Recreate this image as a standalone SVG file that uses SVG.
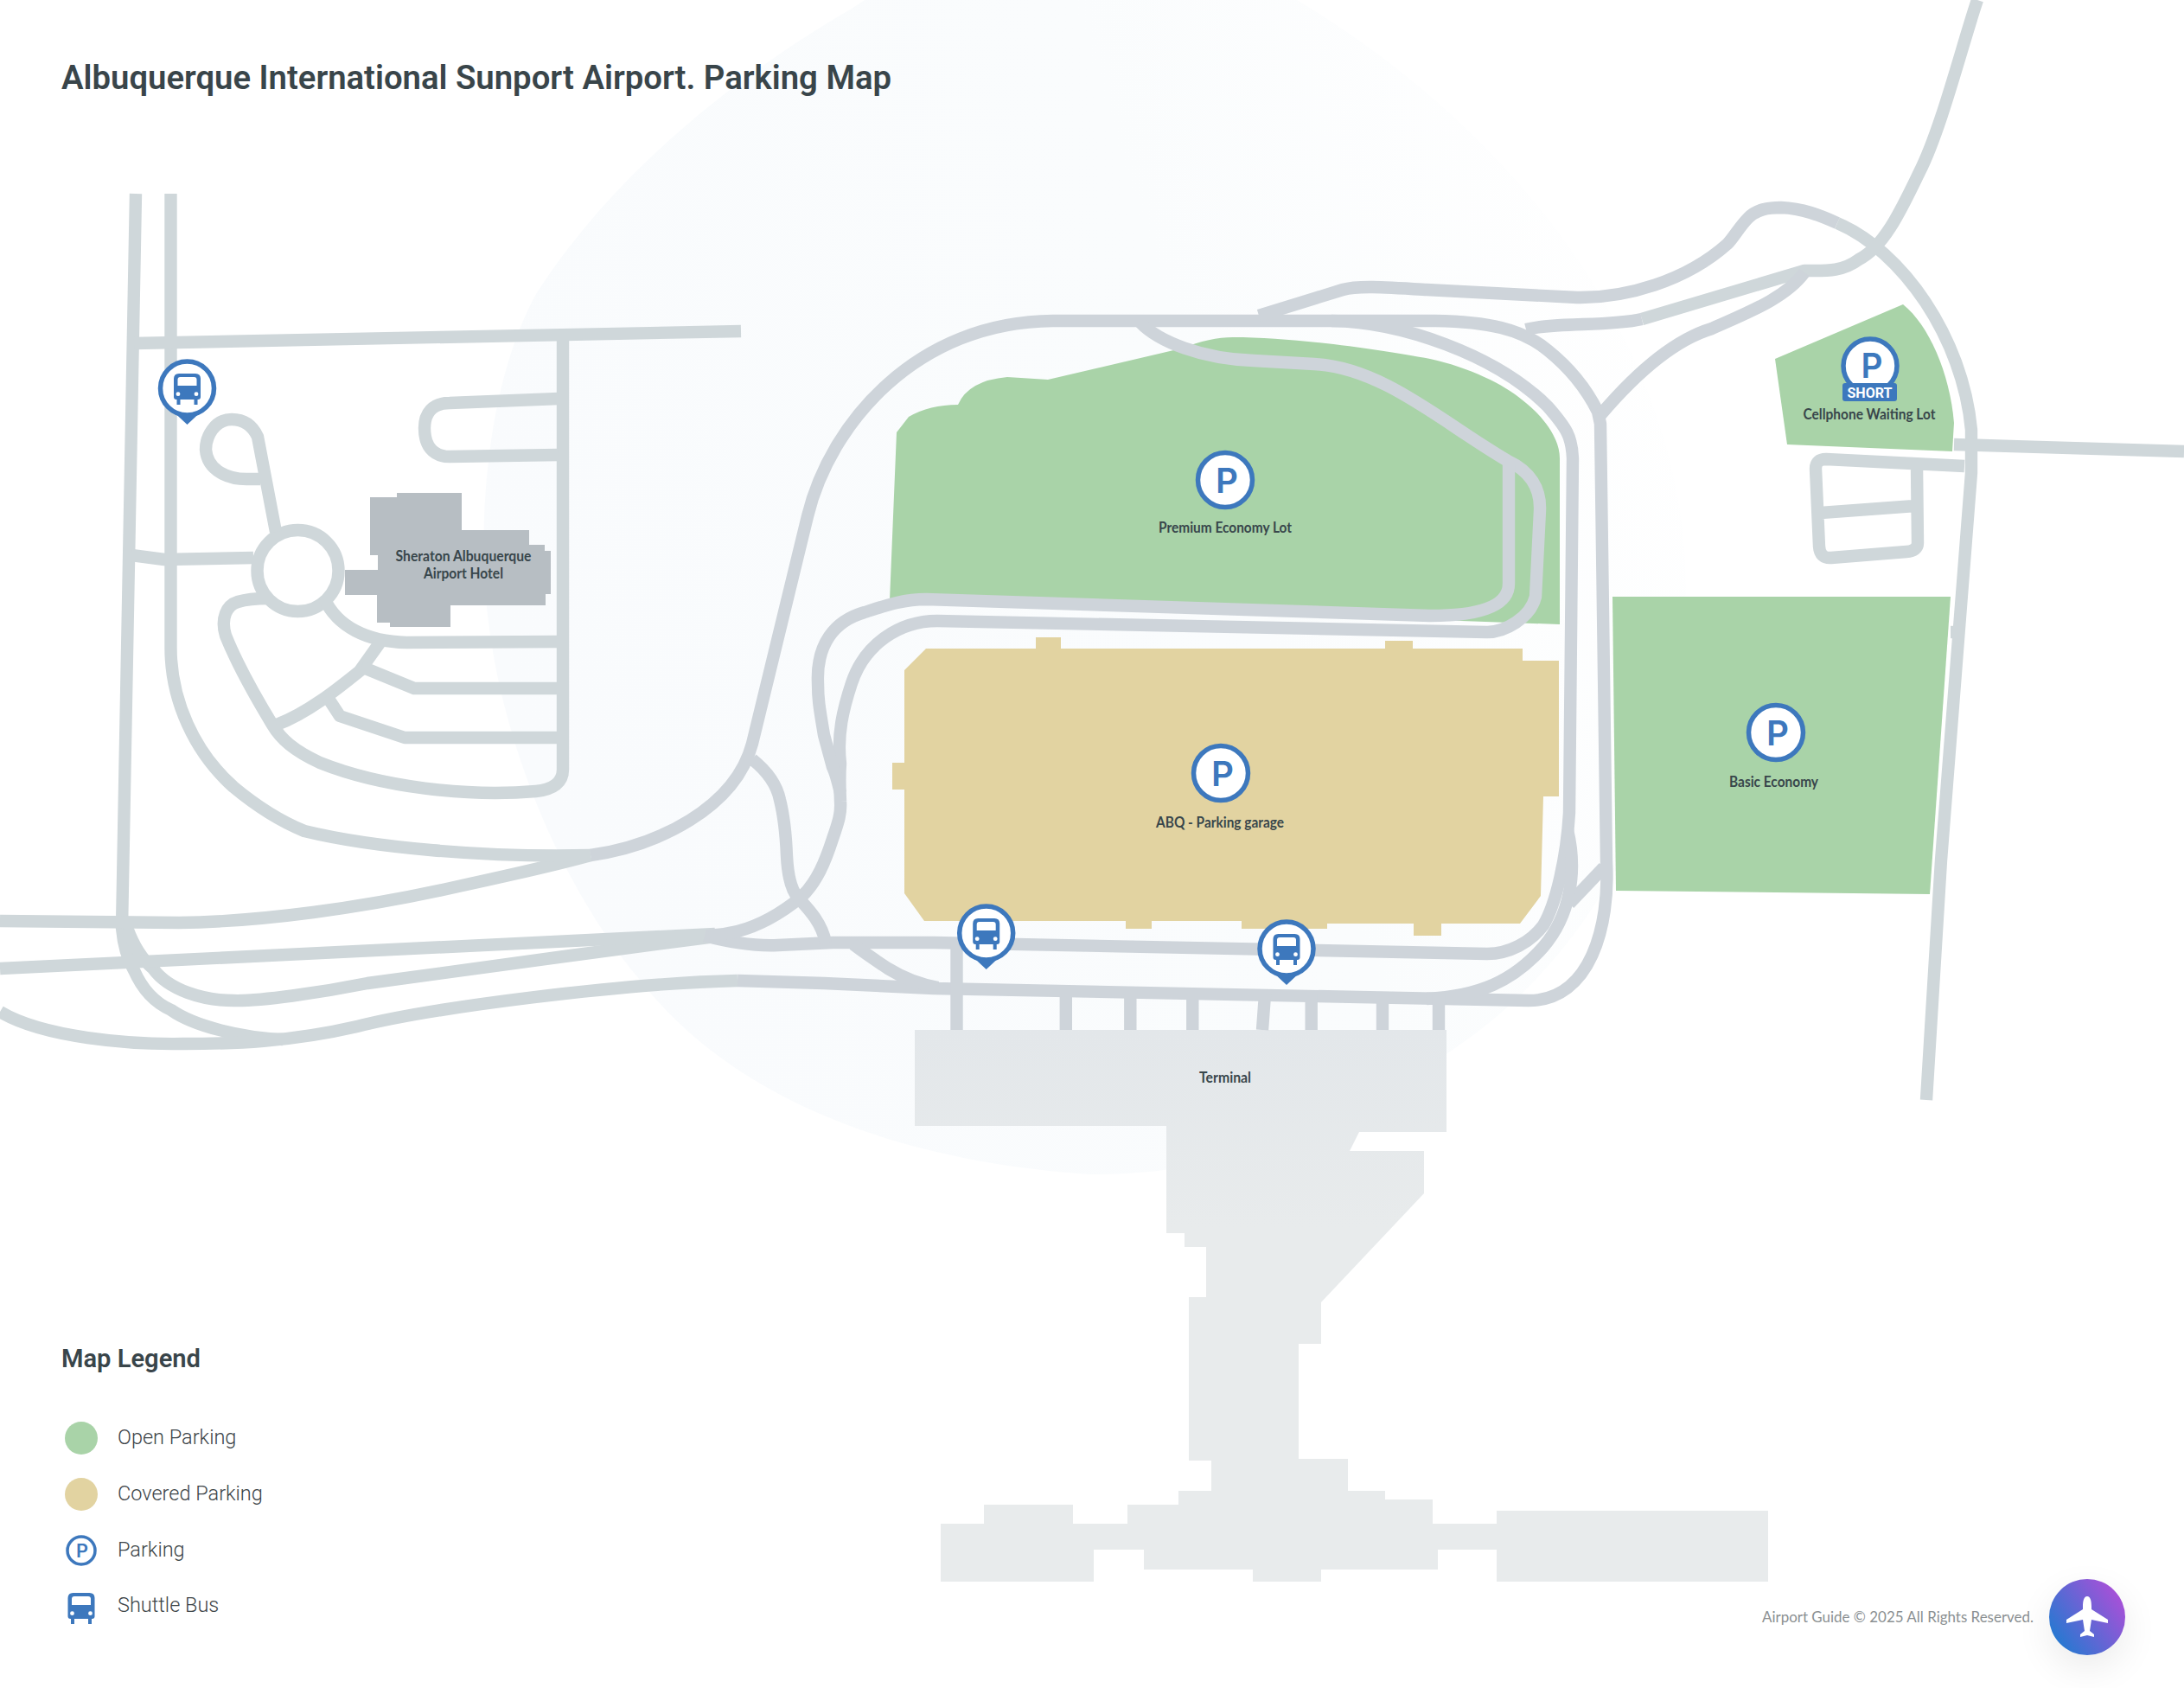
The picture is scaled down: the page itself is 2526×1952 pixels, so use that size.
<svg xmlns="http://www.w3.org/2000/svg" width="2526" height="1952" viewBox="0 0 2526 1952">
<style>
.road{fill:none;stroke:#cfd7da;stroke-width:14.4;stroke-linejoin:round}
.road2{fill:none;stroke:#ced4da;stroke-width:14.4;stroke-linejoin:round}
.open{fill:#a9d3a8}
.cov{fill:#e2d3a1}
.bld{fill:#e8ebec}
.lbl{font-family:Lato,"Noto Sans",sans-serif;font-weight:700;font-size:16.5px;fill:#38464b;text-anchor:middle}
.pin{fill:#fff;stroke:#3d78bd;stroke-width:5.5}
.pch{font-family:Inter,"Noto Sans",sans-serif;font-weight:600;font-size:40px;fill:#3d78bd;text-anchor:middle}
.leg{font-family:Roboto,sans-serif;font-weight:300;font-size:23.5px;fill:#3c4447}
.blue{fill:#3d78bd}
</style>
<defs>
<linearGradient id="blob" x1="0" y1="0.55" x2="1" y2="0.25"><stop offset="0" stop-color="#f9fbfd"/><stop offset="0.6" stop-color="#fafcfd"/><stop offset="1" stop-color="#ffffff"/></linearGradient>
<linearGradient id="badge" x1="0" y1="1" x2="1" y2="0.3"><stop offset="0" stop-color="#1080d0"/><stop offset="1" stop-color="#a850d8"/></linearGradient>
<linearGradient id="termfade" gradientUnits="userSpaceOnUse" x1="0" y1="1191" x2="0" y2="1420"><stop offset="0" stop-color="#e3e7ea"/><stop offset="1" stop-color="#e8ebec"/></linearGradient>
<filter id="sh" x="-100%" y="-100%" width="300%" height="300%"><feGaussianBlur stdDeviation="22"/></filter>
<g id="busicon">
<path class="blue" d="M-15.5,-11 Q-15.5,-17 -9.5,-17 L9.5,-17 Q15.5,-17 15.5,-11 L15.5,10 Q15.5,13 12.5,13 L-12.5,13 Q-15.5,13 -15.5,10 Z"/>
<path fill="#fff" d="M-11,-10 Q-11,-13 -8,-13 L8,-13 Q11,-13 11,-10 L11,-3 L-11,-3 Z"/>
<circle cx="-10.5" cy="6.7" r="2.4" fill="#fff"/><circle cx="10.5" cy="6.7" r="2.4" fill="#fff"/>
<rect class="blue" x="-12" y="13" width="4" height="6"/><rect class="blue" x="8" y="13" width="4" height="6"/>
</g>
<g id="buspin">
<path class="blue" d="M-15,28 L0,42 L15,28 Z"/>
<circle class="pin" r="31"/>
<use href="#busicon"/>
</g>
</defs>
<rect width="2526" height="1952" fill="#ffffff"/>
<path fill="url(#blob)" d="M985,10 C830,100 700,215 620,340 C565,440 550,600 565,720 C585,880 660,1040 740,1133 C830,1250 1000,1340 1260,1358 C1420,1360 1560,1300 1700,1200 C1850,1090 1950,900 1950,680 C1950,400 1750,150 1500,0 L1000,0 Z"/>

<g id="lot-premium"><path class="open" d="M1037,500 L1051,482 Q1075,468 1108,468 Q1120,440 1165,436 L1212,439 L1366,403 Q1400,390 1426,390 C1500,390 1600,405 1654,415 C1700,425 1740,445 1760,462 C1790,485 1804,510 1804,530 L1804,722 L1029,694 Z"/></g>
<g id="lot-garage"><path class="cov" d="M1071,750 L1198,750 L1198,737 L1227,737 L1227,750 L1602,750 L1602,741 L1634,741 L1634,750 L1761,750 L1761,764 L1803,764 L1803,921 L1785,921 L1782,1036 L1758,1068 L1667,1068 L1667,1082 L1635,1082 L1635,1068 L1535,1068 L1535,1074 L1436,1074 L1436,1065 L1332,1065 L1332,1074 L1302,1074 L1302,1065 L1069,1065 L1046,1033 L1046,913 L1032,913 L1032,882 L1046,882 L1046,775 Z"/></g>
<g id="lot-basic"><path class="open" d="M1865,690 L2256,690 L2232,1034 L1869,1030 Z"/></g>
<g id="lot-cell"><path class="open" d="M2053,415 L2201,352 C2230,375 2255,430 2260,489 L2258,522 L2067,514 Z"/></g>
<g id="hotel"><path fill="#b7bec3" d="M428,575 L459,575 L459,570 L534,570 L534,613 L612,613 L612,630 L630,630 L630,637 L637,637 L637,687 L631,687 L631,700 L521,700 L521,725 L451,725 L451,720 L436,720 L436,688 L399,688 L399,659 L437,659 L437,642 L428,642 Z"/></g>
<g id="terminal"><path fill="url(#termfade)" d="M1058,1191 L1673,1191 L1673,1309 L1572,1309 L1561,1331 L1647,1331 L1647,1380 L1528,1506 L1528,1554 L1502,1554 L1502,1687 L1559,1687 L1559,1724 L1602,1724 L1602,1734 L1657,1734 L1657,1762 L1731,1762 L1731,1747 L2045,1747 L2045,1829 L1731,1829 L1731,1792 L1663,1792 L1663,1815 L1528,1815 L1528,1829 L1449,1829 L1449,1815 L1323,1815 L1323,1792 L1265,1792 L1265,1829 L1088,1829 L1088,1762 L1138,1762 L1138,1740 L1241,1740 L1241,1762 L1304,1762 L1304,1740 L1363,1740 L1363,1724 L1401,1724 L1401,1689 L1375,1689 L1375,1500 L1395,1500 L1395,1442 L1370,1442 L1370,1426 L1349,1426 L1349,1302 L1058,1302 Z"/></g>

<g id="connectors">
<path class="road" d="M157,224 L141,1073 C143,1095 148,1110 155,1122 C165,1145 180,1160 198,1168 C225,1187 280,1200 327,1202"/>
<path class="road" d="M147,1073 C155,1095 165,1110 177,1120 C195,1145 235,1157 270,1157 C300,1158 370,1148 425,1137 L660,1105 L827,1083"/>
<path class="road" d="M0,1120 L827,1080"/>
<path class="road" d="M0,1065 L207,1067 C300,1066 420,1050 530,1025 C590,1012 640,1001 683,989"/>
<path class="road" d="M0,1170 C50,1200 150,1208 212,1207 C270,1207 335,1205 413,1187 C500,1165 720,1137 853,1134"/>
<path class="road" d="M197.5,224 L197.5,749 C197.5,810 225,870 270,910 C300,935 325,950 352,961 C430,980 560,992 683,989"/>
<path class="road" d="M155,397 L857,383"/>
<path class="road" d="M651,394 L651,890 C651,905 640,913 620,915 C540,922 440,910 370,882 C340,868 325,855 315,838 C295,805 275,770 261,735 C255,715 262,700 275,696 C285,693 300,692 310,692"/>
<circle class="road" cx="344.5" cy="660" r="47"/>
<path class="road" d="M319,615 L298,505 C292,492 282,485 268,485 C248,485 238,505 238,520 C240,545 265,554 285,554 L301,554"/>
<path class="road" d="M152,642 L190,647 L293,645"/>
<path class="road" d="M646,461 L520,466 C500,466 491,478 491,495 C491,515 500,528 520,528 L646,526"/>
<path class="road" d="M375,692 C390,725 425,742 470,743 L646,742"/>
<path class="road" d="M443,738 L416,776 C390,797 355,825 320,838"/>
<path class="road" d="M418,771 L479,796 L646,796"/>
<path class="road" d="M378,805 L393,828 L468,853 L646,853"/>

<path class="road2" d="M683,989 C760,978 850,935 870,860 L934,597 C960,490 1060,372 1218,371 L1540,371 C1620,372 1730,410 1790,470 C1812,495 1818,505 1819,530 L1815,940 C1812,990 1800,1045 1785,1070 C1770,1090 1745,1103 1720,1103 L1080,1090 L963,1090 L900,1093 C880,1094 853,1092 815,1082"/>
<path class="road2" d="M1540,371 L1660,371 C1720,372 1760,380 1790,405 C1815,425 1835,450 1848,476 L1851,490 L1858,997 C1862,1070 1840,1157 1768,1157 L1080,1143 L953,1137 L853,1134"/>
<path class="road2" d="M820,1082 C835,1081 845,1079 853,1077 C880,1070 905,1055 927,1037 C945,1020 955,995 963,970 C970,950 973,940 972,927 C971,905 971,895 972,883 C968,850 975,820 985,790 C1000,745 1040,718 1084,718 L1720,731 C1740,731 1770,715 1776,690 L1781,590 C1782,565 1770,545 1744,533 C1670,490 1600,425 1520,421 L1450,417 C1390,415 1340,395 1319,373"/>
<path class="road2" d="M972,917 C968,900 966,893 963,887 L953,850 C948,820 946,810 946,790 C944,745 965,718 1000,708 C1025,700 1045,693 1071,693 L1654,712 C1700,712 1745,705 1745,675 L1745,536"/>
<path class="road2" d="M870,878 C885,890 898,905 902,925 C907,945 909,965 910,990 C911,1010 914,1028 923,1038 C932,1048 950,1065 955,1090"/>
<path class="road2" d="M987,1092 C1000,1102 1015,1112 1027,1120 C1040,1128 1060,1138 1085,1142"/>
<path class="road2" d="M1855,1003 L1815,1045"/>
<path class="road2" d="M1813,960 C1825,1010 1815,1060 1785,1095 C1750,1135 1710,1152 1650,1155"/>
<path class="road2" d="M1106.5,1094 L1106.5,1191 M1232.8,1145 L1232.8,1191 M1307.3,1145 L1307.3,1191 M1379.3,1145 L1379.3,1191 M1463,1150 L1460,1191 M1516.7,1150 L1516.7,1191 M1599,1150 L1599,1191 M1664,1150 L1664,1191"/>
<path class="road2" d="M1456,365 L1553,335 C1570,330 1600,332 1650,335 L1824,344 C1880,345 1950,325 1998,282 C2005,275 2012,262 2022,252 C2032,242 2045,240 2060,240 C2085,241 2105,249 2125,258"/>
<path class="road" d="M2125,258 C2200,290 2270,390 2280,497 L2280,547 L2245,995 L2228,1272"/>
<path class="road" d="M2287,0 C2270,50 2245,150 2220,199 C2200,240 2180,285 2150,300 C2130,315 2110,313 2087,313 L1899,369"/>
<path class="road2" d="M1899,369 C1860,378 1800,372 1765,381"/>
<path class="road2" d="M2087,315 C2065,345 2020,362 1980,380 C1930,395 1885,440 1851,480"/>
<path class="road" d="M2526,522 L2260,514"/>
<path class="road" d="M2272,539 L2112,531 Q2100,531 2100,542 L2104,632 Q2105,646 2118,645 L2205,638 Q2218,637 2218,628 L2217,539 M2106,593 L2215,585"/>
<path class="road" d="M2256,731 L2268,731"/>
</g>

<g id="label-premium"><circle class="pin" cx="1417" cy="555" r="31.5"/><text class="pch" x="1419" y="570" textLength="26" lengthAdjust="spacingAndGlyphs">P</text><text class="lbl" x="1417" y="616" textLength="154" lengthAdjust="spacingAndGlyphs">Premium Economy Lot</text></g>
<g id="label-garage"><circle class="pin" cx="1412" cy="894" r="31.5"/><text class="pch" x="1414" y="909" textLength="26" lengthAdjust="spacingAndGlyphs">P</text><text class="lbl" x="1411" y="957" textLength="148" lengthAdjust="spacingAndGlyphs">ABQ - Parking garage</text></g>
<g id="label-basic"><circle class="pin" cx="2054" cy="847" r="31.5"/><text class="pch" x="2056" y="862" textLength="26" lengthAdjust="spacingAndGlyphs">P</text><text class="lbl" x="2051.5" y="910" textLength="103" lengthAdjust="spacingAndGlyphs">Basic Economy</text></g>
<g id="label-cell"><circle class="pin" cx="2163" cy="423" r="31"/><text class="pch" x="2165" y="437" textLength="25" lengthAdjust="spacingAndGlyphs">P</text><rect class="blue" x="2131" y="443" width="63" height="21" rx="3"/><text x="2162.5" y="460" text-anchor="middle" font-family="Roboto,sans-serif" font-weight="700" font-size="17" fill="#fff" textLength="52" lengthAdjust="spacingAndGlyphs">SHORT</text><text class="lbl" x="2162" y="485" textLength="153" lengthAdjust="spacingAndGlyphs">Cellphone Waiting Lot</text></g>
<g id="label-hotel"><text class="lbl" x="536" y="649" textLength="157" lengthAdjust="spacingAndGlyphs">Sheraton Albuquerque</text><text class="lbl" x="536" y="669" textLength="92" lengthAdjust="spacingAndGlyphs">Airport Hotel</text></g>
<g id="label-terminal"><text class="lbl" x="1417" y="1252" textLength="60" lengthAdjust="spacingAndGlyphs">Terminal</text></g>

<g id="shuttle-1"><use href="#buspin" x="216.5" y="449"/></g>
<g id="shuttle-2"><use href="#buspin" x="1140.7" y="1079"/></g>
<g id="shuttle-3"><use href="#buspin" x="1488" y="1097"/></g>

<g id="title"><text x="71" y="103" font-family="Roboto,sans-serif" font-weight="600" font-size="38" fill="#39454a" textLength="960" lengthAdjust="spacingAndGlyphs">Albuquerque International Sunport Airport. Parking Map</text></g>

<g id="legend">
<text x="71" y="1581" font-family="Roboto,sans-serif" font-weight="600" font-size="30" fill="#39454a" textLength="161" lengthAdjust="spacingAndGlyphs">Map Legend</text>
<circle class="open" cx="94" cy="1663" r="19"/><text class="leg" x="136" y="1670">Open Parking</text>
<circle class="cov" cx="94" cy="1728" r="19"/><text class="leg" x="136" y="1735">Covered Parking</text>
<circle cx="94" cy="1793" r="16" fill="#fff" stroke="#3d78bd" stroke-width="3.5"/><text x="95" y="1800.5" text-anchor="middle" font-family="Inter,sans-serif" font-weight="600" font-size="21" fill="#3d78bd" textLength="14" lengthAdjust="spacingAndGlyphs">P</text><text class="leg" x="136" y="1800">Parking</text>
<use href="#busicon" x="94" y="1859"/><text class="leg" x="136" y="1864">Shuttle Bus</text>
</g>

<g id="footer">
<text x="2038" y="1876" font-family="Lato,Noto Sans,sans-serif" font-size="17.5" fill="#8b9092" textLength="314" lengthAdjust="spacingAndGlyphs">Airport Guide © 2025 All Rights Reserved.</text>
<circle cx="2414" cy="1885" r="44" fill="#000" opacity="0.08" filter="url(#sh)"/>
<circle cx="2414" cy="1870" r="44" fill="url(#badge)"/>
<path fill="#fff" d="M2414,1846 C2418,1846 2419,1852 2419,1858 L2419,1861 L2438,1873 L2438,1877 L2419,1873 L2417,1886 L2422,1890 L2422,1893 L2414,1891 L2406,1893 L2406,1890 L2411,1886 L2409,1873 L2390,1877 L2390,1873 L2409,1861 L2409,1858 C2409,1852 2410,1846 2414,1846 Z"/>
</g>
</svg>
